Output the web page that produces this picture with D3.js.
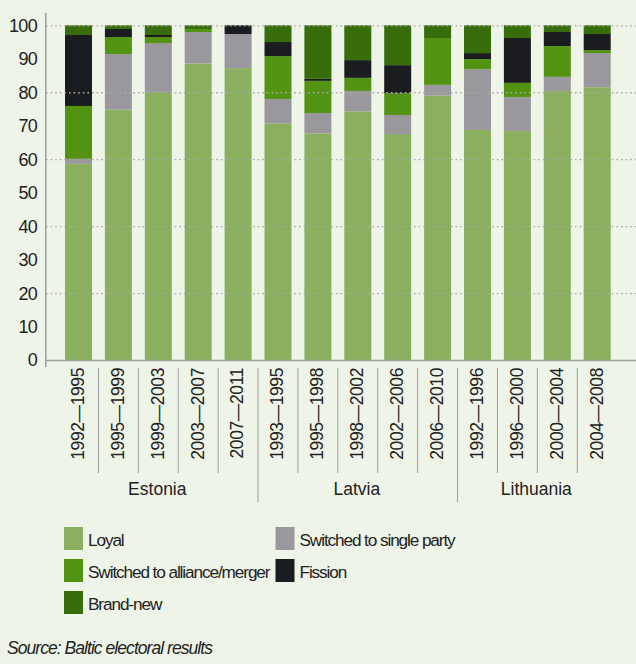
<!DOCTYPE html>
<html><head><meta charset="utf-8">
<script src="https://cdn.jsdelivr.net/npm/d3@7"></script>
<style>
html,body{margin:0;padding:0;background:#eff4e8;}
svg{display:block;}
text{font-family:"Liberation Sans",Arial,Helvetica,sans-serif;fill:#222;}
</style></head><body><svg id="c" width="636" height="664"></svg>
<script>
const countries = ["Estonia","Latvia","Lithuania"];
const periods = ["1992—1995","1995—1999","1999—2003","2003—2007","2007—2011",
                 "1993—1995","1995—1998","1998—2002","2002—2006","2006—2010",
                 "1992—1996","1996—2000","2000—2004","2004—2008"];
const periodCountry = ["Estonia","Estonia","Estonia","Estonia","Estonia",
                       "Latvia","Latvia","Latvia","Latvia","Latvia",
                       "Lithuania","Lithuania","Lithuania","Lithuania"];
const seriesNames = ["Loyal","Switched to single party","Switched to alliance/merger","Fission","Brand-new"];
const loyal       = [58.6,74.8,80.1,88.6,87.2,70.7,67.7,74.3,67.5,79.0,68.7,68.4,80.4,81.5];
const singleParty = [1.5,16.6,14.6,9.4,10.2,7.3,6.1,6.1,5.7,3.2,18.2,10.2,4.2,10.2];
const alliance    = [15.8,5.1,1.8,0.9,0,12.8,9.6,3.9,6.5,14.0,3.0,4.2,9.2,0.9];
const fission     = [21.2,2.4,0.6,0,2.6,4.2,0.6,5.3,8.4,0,1.8,13.4,4.2,4.8];
const brandNew    = [2.9,1.1,2.9,1.1,0,5.0,16.0,10.4,11.9,3.8,8.3,3.8,2.0,2.6];
const yTicks = [0,10,20,30,40,50,60,70,80,90,100];
const gridTicks = [20,40,60,80,100];
const legendOrder = ["Loyal","Switched to single party","Switched to alliance/merger","Fission","Brand-new"];

const colors = {
  "Loyal":"#8aaf5f",
  "Switched to single party":"#9a989c",
  "Switched to alliance/merger":"#529314",
  "Fission":"#1b1c20",
  "Brand-new":"#376e0b"
};

const seriesValues = {
  "Loyal":loyal,
  "Switched to single party":singleParty,
  "Switched to alliance/merger":alliance,
  "Fission":fission,
  "Brand-new":brandNew
};
const rows = periods.map((p,i)=>{
  const r = {idx:i, period:p, country:periodCountry[i]};
  seriesNames.forEach(s=>r[s]=seriesValues[s][i]);
  return r;
});

const svg = d3.select("#c");
const W = 636, H = 664;
svg.append("rect").attr("width",W).attr("height",H).attr("fill","#eff4e8");

const y = d3.scaleLinear().domain([0,100]).range([360,25.3]);
const pi = 0.3233;
const x = d3.scaleBand().domain(d3.range(periods.length))
  .range([58.55, 58.55 + 39.9*periods.length]).paddingInner(pi).paddingOuter(pi/2);
const step = x.step();

// stacked bars
const stack = d3.stack().keys(seriesNames)(rows);
svg.append("g").selectAll("g").data(stack).join("g")
  .attr("fill",d=>colors[d.key])
  .selectAll("rect").data(d=>d).join("rect")
  .attr("x",d=>x(d.data.idx))
  .attr("width",x.bandwidth())
  .attr("y",d=>y(d[1]))
  .attr("height",d=>Math.max(0,y(d[0])-y(d[1])));

// gridlines (on top)
svg.append("g").selectAll("line").data(gridTicks).join("line")
  .attr("x1",46).attr("x2",W)
  .attr("y1",d=>y(d)+0.5).attr("y2",d=>y(d)+0.5)
  .attr("stroke","#a9aaa6").attr("stroke-width",1.3)
  .attr("stroke-dasharray","1.6,3");

// axes lines
svg.append("line").attr("x1",45.8).attr("x2",45.8).attr("y1",13).attr("y2",367)
  .attr("stroke","#9d9e9b").attr("stroke-width",1.5);
svg.append("line").attr("x1",45).attr("x2",W).attr("y1",y(0)+0.5).attr("y2",y(0)+0.5)
  .attr("stroke","#9d9e9b").attr("stroke-width",1.5);

// y tick labels
svg.append("g").selectAll("text").data(yTicks).join("text")
  .attr("x",37).attr("y",d=>y(d)).attr("dy","0.36em")
  .attr("text-anchor","end").attr("font-size",18)
  .attr("letter-spacing","-0.7")
  .attr("fill","#2a2a2a")
  .text(d=>d);

// x tick labels
svg.append("g").selectAll("text").data(rows).join("text")
  .attr("transform",d=>`translate(${x(d.idx)+x.bandwidth()/2-1},368) rotate(-90)`)
  .attr("text-anchor","end").attr("dy","0.36em")
  .attr("font-size",17.5).attr("letter-spacing","-0.4")
  .attr("fill","#2a2a2a")
  .text(d=>d.period);

// separators
const sepIdx = d3.range(1,periods.length);
svg.append("g").selectAll("line").data(sepIdx).join("line")
  .attr("x1",i=>x(i)-step*pi/2).attr("x2",i=>x(i)-step*pi/2)
  .attr("y1",368)
  .attr("y2",i=>periodCountry[i]!==periodCountry[i-1]?502:473)
  .attr("stroke","#9d9e9b").attr("stroke-width",1);

// country labels
svg.append("g").selectAll("text").data(countries).join("text")
  .attr("x",c=>{
    const idxs = rows.filter(r=>r.country===c).map(r=>r.idx);
    return (x(idxs[0]) + x(idxs[idxs.length-1]) + x.bandwidth())/2 - 1;
  })
  .attr("y",495).attr("text-anchor","middle")
  .attr("font-size",17.5).attr("fill","#2a2a2a")
  .text(c=>c);

// legend
const legPos = [[64,527],[275.5,527],[64,559],[275.5,559],[64,591]];
const leg = svg.append("g").selectAll("g").data(legendOrder).join("g")
  .attr("transform",(d,i)=>`translate(${legPos[i][0]},${legPos[i][1]})`);
leg.append("rect").attr("width",19).attr("height",23).attr("fill",d=>colors[d]);
leg.append("text").attr("x",24).attr("y",18.5)
  .attr("font-size",17.2).attr("letter-spacing","-1.1").attr("fill","#222")
  .text(d=>d);

// source
svg.append("text").attr("x",7).attr("y",654)
  .attr("font-size",17.5).attr("font-style","italic").attr("letter-spacing","-0.95")
  .attr("fill","#444")
  .text("Source: Baltic electoral results");
</script></body></html>
